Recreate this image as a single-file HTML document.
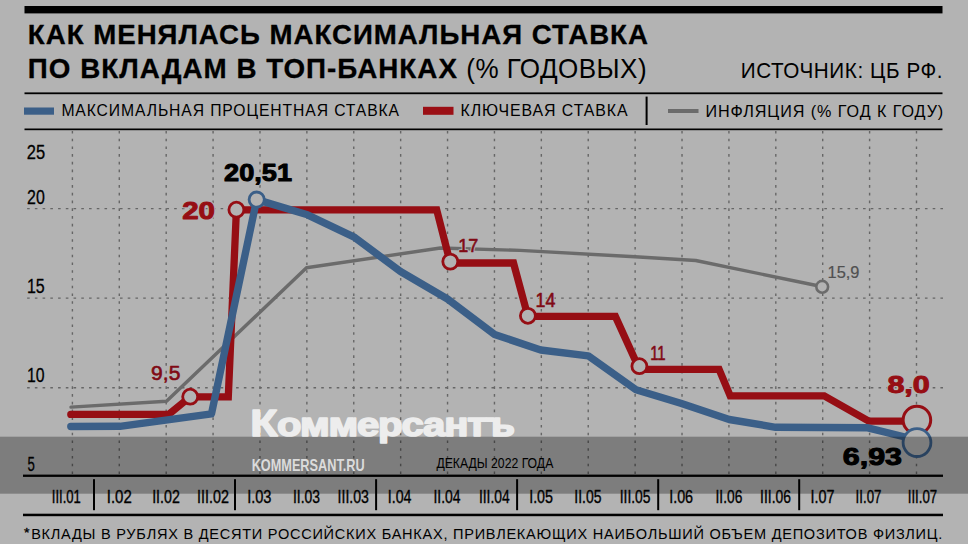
<!DOCTYPE html>
<html><head><meta charset="utf-8"><style>
html,body{margin:0;padding:0;background:#b3b3b3;}
svg{display:block;}
text{font-family:"Liberation Sans", sans-serif;}
</style></head><body>
<svg width="968" height="544" viewBox="0 0 968 544">
<rect x="0" y="0" width="968" height="544" fill="#b3b3b3"/>
<rect x="24.5" y="6" width="918" height="7.4" fill="#000"/>
<rect x="24.5" y="92.4" width="918" height="1.8" fill="#000"/>
<rect x="24.5" y="128.5" width="918" height="1.7" fill="#000"/>
<rect x="24" y="107.5" width="30" height="7.2" fill="#3b5f88"/>
<rect x="423" y="106.8" width="30.5" height="8" fill="#9b0f15"/>
<rect x="668" y="109" width="30.5" height="4" fill="#6b6b6b"/>
<rect x="645.6" y="96.6" width="2" height="28.4" fill="#000"/>
<g stroke="#666" stroke-width="1.4" stroke-dasharray="2.6 5.14" fill="none"><line x1="72.40" y1="130.9" x2="72.40" y2="474" /><line x1="119.29" y1="130.9" x2="119.29" y2="474" /><line x1="166.19" y1="130.9" x2="166.19" y2="474" /><line x1="213.08" y1="130.9" x2="213.08" y2="474" /><line x1="259.98" y1="130.9" x2="259.98" y2="474" /><line x1="306.87" y1="130.9" x2="306.87" y2="474" /><line x1="353.76" y1="130.9" x2="353.76" y2="474" /><line x1="400.66" y1="130.9" x2="400.66" y2="474" /><line x1="447.55" y1="130.9" x2="447.55" y2="474" /><line x1="494.45" y1="130.9" x2="494.45" y2="474" /><line x1="541.34" y1="130.9" x2="541.34" y2="474" /><line x1="588.23" y1="130.9" x2="588.23" y2="474" /><line x1="635.13" y1="130.9" x2="635.13" y2="474" /><line x1="682.02" y1="130.9" x2="682.02" y2="474" /><line x1="728.92" y1="130.9" x2="728.92" y2="474" /><line x1="775.81" y1="130.9" x2="775.81" y2="474" /><line x1="822.70" y1="130.9" x2="822.70" y2="474" /><line x1="869.60" y1="130.9" x2="869.60" y2="474" /><line x1="916.49" y1="130.9" x2="916.49" y2="474" /><line x1="27.1" y1="208.6" x2="943" y2="208.6" /><line x1="27.1" y1="298.1" x2="943" y2="298.1" /><line x1="27.1" y1="387.7" x2="943" y2="387.7" /></g>
<rect x="23" y="474.6" width="920" height="2.3" fill="#000"/>
<rect x="23" y="513.7" width="920" height="2.5" fill="#000"/>
<g fill="#000"><rect x="93.0" y="479.2" width="2" height="31"/><rect x="234.0" y="479.2" width="2" height="31"/><rect x="375.1" y="479.2" width="2" height="31"/><rect x="516.1" y="479.2" width="2" height="31"/><rect x="657.2" y="479.2" width="2" height="31"/><rect x="798.2" y="479.2" width="2" height="31"/></g>

<polyline points="71.0,407.1 166.5,401.3 306.5,267.8 440.4,248.0 520.0,250.4 635.0,256.7 695.7,260.5 821.5,286.5" fill="none" stroke="#6b6b6b" stroke-width="3.4" stroke-linejoin="round" stroke-linecap="round"/>
<polyline points="70.8,414.4 168.8,414.4 190.2,396.8 228.3,396.8 236.4,209.9 436.7,209.9 450.3,263.0 513.5,263.0 527.9,316.4 615.4,316.4 639.5,369.4 719.1,369.4 730.2,395.9 824.2,395.9 868.8,421.1 903.0,421.1" fill="none" stroke="#960e14" stroke-width="7.3" stroke-linejoin="miter" stroke-linecap="round"/>
<polyline points="70.8,426.5 119.9,426.3 211.5,413.8 256.7,199.6 307.5,214.8 353.7,236.8 400.5,271.5 447.5,299.0 494.6,334.5 540.7,350.0 588.2,355.8 636.0,389.8 680.7,403.2 729.2,419.5 775.7,427.3 867.8,427.8 905.0,437.0" fill="none" stroke="#3b5f88" stroke-width="7.4" stroke-linejoin="round" stroke-linecap="round"/>
<circle cx="822.2" cy="286.8" r="5.9" fill="#b3b3b3" stroke="#6b6b6b" stroke-width="2.6"/>
<circle cx="190.2" cy="396.7" r="7.5" fill="#b3b3b3" stroke="#960e14" stroke-width="2.8"/>
<circle cx="236.4" cy="209.7" r="7.5" fill="#b3b3b3" stroke="#960e14" stroke-width="2.8"/>
<circle cx="450.3" cy="261.6" r="7.5" fill="#b3b3b3" stroke="#960e14" stroke-width="2.8"/>
<circle cx="527.9" cy="315.8" r="7.5" fill="#b3b3b3" stroke="#960e14" stroke-width="2.8"/>
<circle cx="639.4" cy="366.2" r="7.5" fill="#b3b3b3" stroke="#960e14" stroke-width="2.8"/>
<circle cx="256.7" cy="199.6" r="7.6" fill="#b3b3b3" stroke="#3b5f88" stroke-width="2.8"/>
<circle cx="916.9" cy="420" r="13.8" fill="#b3b3b3" stroke="#960e14" stroke-width="3"/>
<circle cx="917" cy="442.6" r="13.9" fill="#b3b3b3" stroke="#3b5f88" stroke-width="2.8"/>

<text transform="translate(27.85,43.85) scale(0.9959,1)" font-size="27.76" font-weight="bold" letter-spacing="1.0" fill="#000" stroke="#000" stroke-width="0.3" stroke-linejoin="round">КАК МЕНЯЛАСЬ МАКСИМАЛЬНАЯ СТАВКА</text>
<text transform="translate(27.85,77.85) scale(1.0009,1)" font-size="27.76" font-weight="bold" letter-spacing="1.0" fill="#000" stroke="#000" stroke-width="0.3" stroke-linejoin="round">ПО ВКЛАДАМ В ТОП-БАНКАХ</text>
<text transform="translate(466.26,77.70) scale(0.9427,1)" font-size="27.62" letter-spacing="0.5" fill="#000">(% ГОДОВЫХ)</text>
<text transform="translate(740.75,77.50) scale(0.9493,1)" font-size="21.8" letter-spacing="0.6" fill="#000">ИСТОЧНИК: ЦБ РФ.</text>
<text transform="translate(61.39,116.00) scale(0.9074,1)" font-size="17.3" letter-spacing="1.0" fill="#000">МАКСИМАЛЬНАЯ ПРОЦЕНТНАЯ СТАВКА</text>
<text transform="translate(460.58,116.00) scale(0.9188,1)" font-size="17.3" letter-spacing="1.0" fill="#000">КЛЮЧЕВАЯ СТАВКА</text>
<text transform="translate(705.47,116.50) scale(0.9338,1)" font-size="17.3" letter-spacing="1.0" fill="#000">ИНФЛЯЦИЯ (% ГОД К ГОДУ)</text>
<text transform="translate(26.87,159.25) scale(0.7832,1)" font-size="21.06" fill="#000" stroke="#000" stroke-width="0.3" stroke-linejoin="round">25</text>
<text transform="translate(27.09,204.45) scale(0.7556,1)" font-size="21.06" fill="#000" stroke="#000" stroke-width="0.3" stroke-linejoin="round">20</text>
<text transform="translate(26.98,293.25) scale(0.7703,1)" font-size="20.77" fill="#000" stroke="#000" stroke-width="0.3" stroke-linejoin="round">15</text>
<text transform="translate(26.89,382.35) scale(0.7611,1)" font-size="20.77" fill="#000" stroke="#000" stroke-width="0.3" stroke-linejoin="round">10</text>
<text transform="translate(27.45,470.75) scale(0.6727,1)" font-size="19.63" fill="#000" stroke="#000" stroke-width="0.3" stroke-linejoin="round">5</text>
<text transform="translate(436.40,468.30) scale(0.8431,1)" font-size="14.53" fill="#000">ДЕКАДЫ 2022 ГОДА</text>
<text transform="translate(23.95,536.95) scale(1.1200,1)" font-size="12.65" fill="#000" stroke="#000" stroke-width="0.3" stroke-linejoin="round">*</text>
<text transform="translate(31.16,538.70) scale(0.9431,1)" font-size="15.41" letter-spacing="0.8" fill="#000">ВКЛАДЫ В РУБЛЯХ В ДЕСЯТИ РОССИЙСКИХ БАНКАХ, ПРИВЛЕКАЮЩИХ НАИБОЛЬШИЙ ОБЪЕМ ДЕПОЗИТОВ ФИЗЛИЦ.</text>
<text transform="translate(182.20,219.40) scale(1.1950,1)" font-size="24.64" font-weight="bold" fill="#b3b3b3" stroke="#b3b3b3" stroke-width="3.0" stroke-linejoin="round">20</text><text transform="translate(182.20,219.40) scale(1.1950,1)" font-size="24.64" font-weight="bold" fill="#960e14" stroke="#960e14" stroke-width="1.0" stroke-linejoin="round">20</text>
<text transform="translate(224.10,180.70) scale(1.1013,1)" font-size="24.64" font-weight="bold" fill="#b3b3b3" stroke="#b3b3b3" stroke-width="2.5" stroke-linejoin="round">20,51</text><text transform="translate(224.10,180.70) scale(1.1013,1)" font-size="24.64" font-weight="bold" fill="#000" stroke="#000" stroke-width="1.0" stroke-linejoin="round">20,51</text>
<text transform="translate(887.40,393.20) scale(1.2596,1)" font-size="24.21" font-weight="bold" fill="#b3b3b3" stroke="#b3b3b3" stroke-width="3.0" stroke-linejoin="round">8,0</text><text transform="translate(887.40,393.20) scale(1.2596,1)" font-size="24.21" font-weight="bold" fill="#960e14" stroke="#960e14" stroke-width="1.0" stroke-linejoin="round">8,0</text>
<text transform="translate(842.80,465.20) scale(1.2431,1)" font-size="24.5" font-weight="bold" fill="#000" stroke="#000" stroke-width="1.0" stroke-linejoin="round">6,93</text>
<text transform="translate(151.10,380.10) scale(1.0579,1)" font-size="19.91" fill="#b3b3b3" stroke="#b3b3b3" stroke-width="2.6" stroke-linejoin="round">9,5</text><text transform="translate(151.10,380.10) scale(1.0579,1)" font-size="19.91" fill="#800a14" stroke="#800a14" stroke-width="0.6" stroke-linejoin="round">9,5</text>
<text transform="translate(458.26,252.40) scale(0.9405,1)" font-size="19.19" fill="#b3b3b3" stroke="#b3b3b3" stroke-width="2.6" stroke-linejoin="round">17</text><text transform="translate(458.26,252.40) scale(0.9405,1)" font-size="19.19" fill="#800a14" stroke="#800a14" stroke-width="0.6" stroke-linejoin="round">17</text>
<text transform="translate(535.59,306.70) scale(0.9088,1)" font-size="19.62" fill="#b3b3b3" stroke="#b3b3b3" stroke-width="2.6" stroke-linejoin="round">14</text><text transform="translate(535.59,306.70) scale(0.9088,1)" font-size="19.62" fill="#800a14" stroke="#800a14" stroke-width="0.6" stroke-linejoin="round">14</text>
<text transform="translate(650.16,360.40) scale(0.7401,1)" font-size="20.2" fill="#b3b3b3" stroke="#b3b3b3" stroke-width="2.6" stroke-linejoin="round">11</text><text transform="translate(650.16,360.40) scale(0.7401,1)" font-size="20.2" fill="#800a14" stroke="#800a14" stroke-width="0.6" stroke-linejoin="round">11</text>
<text transform="translate(827.59,277.60) scale(1.0130,1)" font-size="16.19" fill="#b3b3b3" stroke="#b3b3b3" stroke-width="2.2" stroke-linejoin="round">15,9</text><text transform="translate(827.59,277.60) scale(1.0130,1)" font-size="16.19" fill="#505050" stroke="#505050" stroke-width="0.2" stroke-linejoin="round">15,9</text>
<text transform="translate(51.84,503.02) scale(0.7375,1)" font-size="17.69" fill="#000" stroke="#000" stroke-width="0.35" stroke-linejoin="round">III.01</text>
<text transform="translate(106.73,503.02) scale(0.8476,1)" font-size="17.69" fill="#000" stroke="#000" stroke-width="0.35" stroke-linejoin="round">I.02</text>
<text transform="translate(152.17,503.02) scale(0.8027,1)" font-size="17.69" fill="#000" stroke="#000" stroke-width="0.35" stroke-linejoin="round">II.02</text>
<text transform="translate(197.07,503.02) scale(0.8095,1)" font-size="17.69" fill="#000" stroke="#000" stroke-width="0.35" stroke-linejoin="round">III.02</text>
<text transform="translate(247.15,503.02) scale(0.8250,1)" font-size="17.69" fill="#000" stroke="#000" stroke-width="0.35" stroke-linejoin="round">I.03</text>
<text transform="translate(292.99,503.02) scale(0.7847,1)" font-size="17.69" fill="#000" stroke="#000" stroke-width="0.35" stroke-linejoin="round">II.03</text>
<text transform="translate(337.58,503.02) scale(0.7962,1)" font-size="17.69" fill="#000" stroke="#000" stroke-width="0.35" stroke-linejoin="round">III.03</text>
<text transform="translate(387.87,503.02) scale(0.8006,1)" font-size="17.69" fill="#000" stroke="#000" stroke-width="0.35" stroke-linejoin="round">I.04</text>
<text transform="translate(433.49,503.02) scale(0.7877,1)" font-size="17.69" fill="#000" stroke="#000" stroke-width="0.35" stroke-linejoin="round">II.04</text>
<text transform="translate(478.89,503.02) scale(0.7832,1)" font-size="17.69" fill="#000" stroke="#000" stroke-width="0.35" stroke-linejoin="round">III.04</text>
<text transform="translate(529.17,503.02) scale(0.8076,1)" font-size="17.69" fill="#000" stroke="#000" stroke-width="0.35" stroke-linejoin="round">I.05</text>
<text transform="translate(574.29,503.02) scale(0.7877,1)" font-size="17.69" fill="#000" stroke="#000" stroke-width="0.35" stroke-linejoin="round">II.05</text>
<text transform="translate(619.69,503.02) scale(0.7832,1)" font-size="17.69" fill="#000" stroke="#000" stroke-width="0.35" stroke-linejoin="round">III.05</text>
<text transform="translate(669.16,503.02) scale(0.8111,1)" font-size="17.69" fill="#000" stroke="#000" stroke-width="0.35" stroke-linejoin="round">I.06</text>
<text transform="translate(715.50,503.02) scale(0.7788,1)" font-size="17.69" fill="#000" stroke="#000" stroke-width="0.35" stroke-linejoin="round">II.06</text>
<text transform="translate(760.09,503.02) scale(0.7832,1)" font-size="17.69" fill="#000" stroke="#000" stroke-width="0.35" stroke-linejoin="round">III.06</text>
<text transform="translate(810.46,503.02) scale(0.8115,1)" font-size="17.69" fill="#000" stroke="#000" stroke-width="0.35" stroke-linejoin="round">I.07</text>
<text transform="translate(855.62,503.02) scale(0.7505,1)" font-size="17.69" fill="#000" stroke="#000" stroke-width="0.35" stroke-linejoin="round">II.07</text>
<text transform="translate(907.72,503.02) scale(0.7508,1)" font-size="17.69" fill="#000" stroke="#000" stroke-width="0.35" stroke-linejoin="round">III.07</text>
<rect x="0" y="436.7" width="968" height="57" fill="#000" fill-opacity="0.3"/>
<g opacity="0.99"><text transform="translate(250.13,435.80) scale(1.1857,1)" font-size="37.5" font-weight="bold" fill="#eeeeee" stroke="#eeeeee" stroke-width="1.6" stroke-linejoin="round">К</text>
<text transform="translate(277.08,435.80) scale(1.2202,1)" font-size="32.95" font-weight="bold" letter-spacing="-1.0" fill="#eeeeee" stroke="#eeeeee" stroke-width="1.6" stroke-linejoin="round">оммерсантъ</text>
<text transform="translate(251.63,470.80) scale(0.7676,1)" font-size="16.57" font-weight="bold" fill="#dddddd">KOMMERSANT.RU</text></g>
</svg>
</body></html>
